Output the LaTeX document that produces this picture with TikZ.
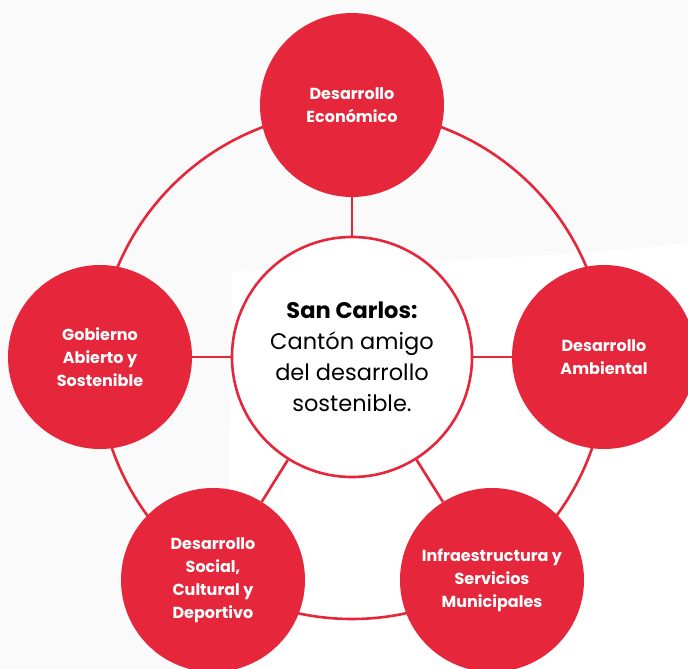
\documentclass[tikz,border=0pt]{standalone}
\usepackage{fontspec}
\setmainfont{Poppins}
\usetikzlibrary{positioning}
\definecolor{scred}{RGB}{229,38,59}
\definecolor{pagegray}{RGB}{250,250,250}

\begin{document}
\begin{tikzpicture}[
    x=1pt, y=-1pt,
    ring/.style={draw=scred, line width=2.6pt},
    hub/.style={circle, draw=scred, line width=2.6pt, fill=white, minimum size=240pt, inner sep=0pt, align=center, font=\fontsize{22.5}{31}\selectfont},
    goal/.style={circle, fill=scred, minimum size=184pt, inner sep=0pt, align=center, text=white, font=\bfseries\fontsize{16}{23}\selectfont}
]

% Page background
\fill[pagegray] (0,0) rectangle (688,669);
\fill[white] (232,272) .. controls (400,262) and (560,258) .. (688,243) -- (688,669) -- (226,669) -- cycle;
\useasboundingbox (0,0) rectangle (688,669);
\clip (0,0) rectangle (688,669);

% Outer ring through the goals
\draw[ring] (352,365) circle[radius=254];

% Centre and goals
\node[hub] (hub) at (352,357) {\textbf{San Carlos:}\\Cantón amigo\\del desarrollo\\sostenible.};
\node[goal] (eco) at (352,105) {Desarrollo\\Económico};
\node[goal] (amb) at (604,357) {Desarrollo\\Ambiental};
\node[goal] (infra) at (492,580) {Infraestructura y\\Servicios\\Municipales};
\node[goal] (soc) at (213,580) {Desarrollo\\Social,\\Cultural y\\Deportivo};
\node[goal] (gob) at (100,357) {Gobierno\\Abierto y\\Sostenible};

% Spokes from the centre
\foreach \g in {eco,amb,infra,soc,gob} {
    \draw[ring] (hub) -- (\g);
}

\end{tikzpicture}
\end{document}
